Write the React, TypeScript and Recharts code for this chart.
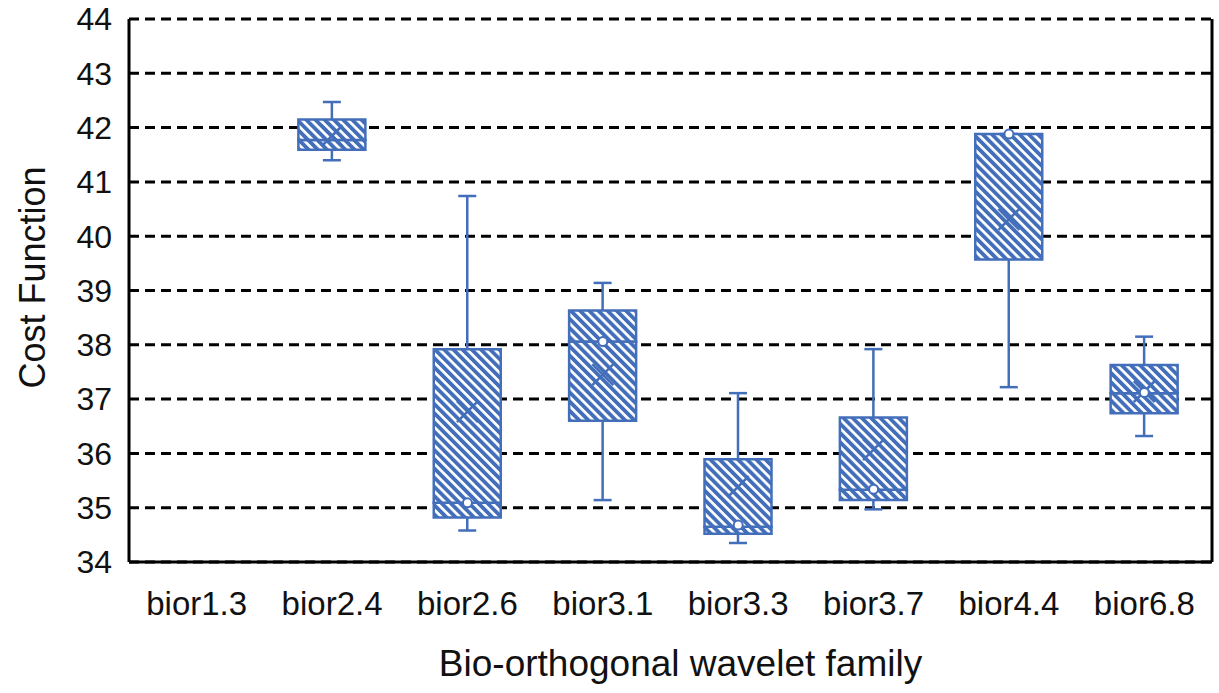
import {
  Bar,
  CartesianGrid,
  ComposedChart,
  Label,
  Line,
  XAxis,
  YAxis,
} from "recharts";

const categories = [
  "bior1.3",
  "bior2.4",
  "bior2.6",
  "bior3.1",
  "bior3.3",
  "bior3.7",
  "bior4.4",
  "bior6.8",
];
const minVals = [null, 41.4, 34.58, 35.14, 34.35, 34.97, 37.22, 36.32];
const q1Vals = [null, 41.59, 34.82, 36.6, 34.52, 35.14, 39.57, 36.74];
const medianVals = [null, 41.77, 35.09, 38.06, 34.65, 35.33, 41.88, 37.11];
const q3Vals = [null, 42.15, 37.92, 38.63, 35.89, 36.66, 41.88, 37.63];
const maxVals = [null, 42.47, 40.74, 39.14, 37.11, 37.92, 41.88, 38.15];
const meanVals = [null, 41.85, 36.77, 37.45, 35.39, 36.07, 40.31, 37.14];
const innerPoints = [null, null, 35.09, 38.06, 34.68, 35.34, 41.88, 37.12];
const yTicks = [34, 35, 36, 37, 38, 39, 40, 41, 42, 43, 44];

const BLUE = "#436EBA";
const FONT = "Arial, 'Liberation Sans', sans-serif";

const rows = categories.map((name, i) => {
  const q1 = q1Vals[i];
  const med = medianVals[i];
  const q3 = q3Vals[i];
  const has = q1 != null && med != null && q3 != null;
  return {
    name,
    whisker: minVals[i] == null ? null : [minVals[i], maxVals[i]],
    base: has ? q1 : null,
    lowerBox: has ? med - q1 : null,
    upperBox: has ? q3 - med : null,
    mean: meanVals[i],
    point: innerPoints[i],
  };
});

function WhiskerShape(props: any) {
  const { x, y, width, height } = props;
  if (![x, y, width, height].every((v) => Number.isFinite(v))) return null;
  const cx = x + width / 2;
  const top = Math.min(y, y + height);
  const bottom = Math.max(y, y + height);
  const cap = 9;
  return (
    <g stroke={BLUE} strokeWidth={2.5}>
      <line x1={cx} y1={top} x2={cx} y2={bottom} />
      <line x1={cx - cap} y1={top} x2={cx + cap} y2={top} />
      <line x1={cx - cap} y1={bottom} x2={cx + cap} y2={bottom} />
    </g>
  );
}

function MeanMark(props: any) {
  const { cx, cy, index } = props;
  if (!Number.isFinite(cx) || !Number.isFinite(cy) || meanVals[index] == null)
    return <g key={`m-${index}`} />;
  const s = 10.5;
  return (
    <g key={`m-${index}`} stroke={BLUE} strokeWidth={2.5}>
      <line x1={cx - s} y1={cy - s} x2={cx + s} y2={cy + s} />
      <line x1={cx - s} y1={cy + s} x2={cx + s} y2={cy - s} />
    </g>
  );
}

function PointMark(props: any) {
  const { cx, cy, index } = props;
  if (!Number.isFinite(cx) || !Number.isFinite(cy) || innerPoints[index] == null)
    return <g key={`p-${index}`} />;
  return (
    <circle
      key={`p-${index}`}
      cx={cx}
      cy={cy}
      r={4.5}
      fill="#fff"
      stroke={BLUE}
      strokeWidth={2}
    />
  );
}

function YTitle(props: any) {
  const { x, y, height } = props.viewBox;
  const tx = x + 32;
  const ty = y + height / 2 - 13;
  return (
    <text
      x={tx}
      y={ty}
      transform={`rotate(-90 ${tx} ${ty})`}
      textAnchor="middle"
      dominantBaseline="central"
      fontSize={36}
      fontFamily={FONT}
      fill="#111"
    >
      Cost Function
    </text>
  );
}

function XTitle(props: any) {
  const { x, y, width } = props.viewBox;
  return (
    <text
      x={x + width / 2 + 10}
      y={y + 114}
      textAnchor="middle"
      fontSize={37}
      fontFamily={FONT}
      fill="#111"
    >
      Bio-orthogonal wavelet family
    </text>
  );
}

export default function App() {
  return (
    <div style={{ position: "absolute", left: 0, top: 0, background: "#fff" }}>
      <svg width={0} height={0} style={{ position: "absolute" }}>
        <defs>
          <pattern
            id="hatch"
            patternUnits="userSpaceOnUse"
            width={6.5}
            height={6.5}
            patternTransform="rotate(-45)"
          >
            <rect x={0} y={0} width={6.5} height={6.5} fill="#fff" />
            <rect x={0} y={0} width={3.8} height={6.5} fill={BLUE} />
          </pattern>
        </defs>
      </svg>
      <ComposedChart
        width={1219}
        height={693}
        data={rows}
        margin={{ top: 19, right: 6, bottom: 0, left: 0 }}
      >
        <CartesianGrid
          xAxisId="x"
          yAxisId="y"
          vertical={false}
          stroke="#000"
          strokeWidth={3}
          strokeDasharray="10 6"
        />
        <XAxis xAxisId="w" dataKey="name" hide height={0} />
        <XAxis
          xAxisId="x"
          dataKey="name"
          height={131}
          tickLine={false}
          tickSize={0}
          tickMargin={30}
          axisLine={{ stroke: "#000", strokeWidth: 3 }}
          tick={{ fontSize: 33, fill: "#111", fontFamily: FONT }}
          interval={0}
        >
          <Label content={XTitle} />
        </XAxis>
        <YAxis
          yAxisId="y"
          width={129}
          domain={[34, 44]}
          ticks={yTicks}
          interval={0}
          allowDataOverflow
          tickLine={false}
          tickSize={0}
          tickMargin={17}
          axisLine={{ stroke: "#000", strokeWidth: 3 }}
          tick={{ fontSize: 32, fill: "#111", fontFamily: FONT }}
        >
          <Label content={YTitle} />
        </YAxis>
        <YAxis
          yAxisId="r"
          orientation="right"
          width={1}
          tick={false}
          tickLine={false}
          axisLine={{ stroke: "#000", strokeWidth: 3 }}
        />
        <Bar
          xAxisId="w"
          yAxisId="y"
          dataKey="whisker"
          barSize={67}
          shape={<WhiskerShape />}
          isAnimationActive={false}
        />
        <Bar
          xAxisId="x"
          yAxisId="y"
          dataKey="base"
          stackId="box"
          barSize={67}
          fill="transparent"
          isAnimationActive={false}
        />
        <Bar
          xAxisId="x"
          yAxisId="y"
          dataKey="lowerBox"
          stackId="box"
          barSize={67}
          fill="url(#hatch)"
          stroke={BLUE}
          strokeWidth={2.5}
          isAnimationActive={false}
        />
        <Bar
          xAxisId="x"
          yAxisId="y"
          dataKey="upperBox"
          stackId="box"
          barSize={67}
          fill="url(#hatch)"
          stroke={BLUE}
          strokeWidth={2.5}
          isAnimationActive={false}
        />
        <Line
          xAxisId="x"
          yAxisId="y"
          dataKey="mean"
          stroke="none"
          dot={MeanMark}
          activeDot={false}
          isAnimationActive={false}
        />
        <Line
          xAxisId="x"
          yAxisId="y"
          dataKey="point"
          stroke="none"
          dot={PointMark}
          activeDot={false}
          isAnimationActive={false}
        />
      </ComposedChart>
    </div>
  );
}
